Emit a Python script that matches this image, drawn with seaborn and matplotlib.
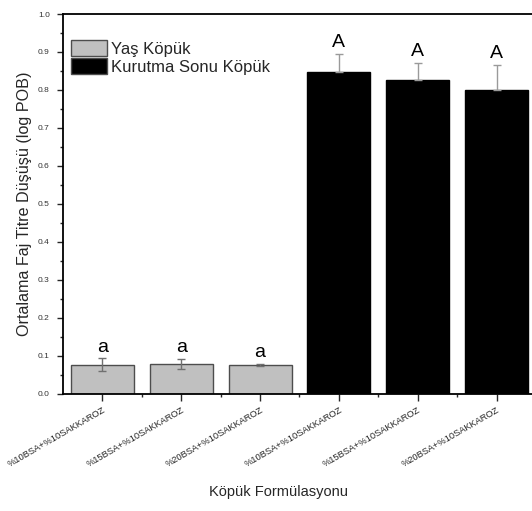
import matplotlib
matplotlib.use("Agg")
import matplotlib.pyplot as plt
from matplotlib.patches import Patch
from matplotlib.ticker import MultipleLocator, FixedLocator, FormatStrFormatter
import seaborn as sns
import pandas as pd

formulations = ["%10BSA+%10SAKKAROZ", "%15BSA+%10SAKKAROZ", "%20BSA+%10SAKKAROZ"]
groups = ["Yaş Köpük", "Kurutma Sonu Köpük"]
wet_means = [0.077, 0.080, 0.076]
wet_sd = [0.017, 0.013, 0.003]
dry_means = [0.848, 0.825, 0.799]
dry_sd = [0.047, 0.047, 0.067]
wet_letters = ["a", "a", "a"]
dry_letters = ["A", "A", "A"]

sns.set_style("ticks")
plt.rcParams["font.family"] = ["Liberation Sans", "DejaVu Sans"]

keys = [f"{g}|{f}" for g in groups for f in formulations]
df = pd.DataFrame({
    "key": keys,
    "group": [g for g in groups for _ in formulations],
    "value": wet_means + dry_means,
})
sds = wet_sd + dry_sd
letters = wet_letters + dry_letters

fig = plt.figure(figsize=(5.32, 5.11), dpi=100)
ax = fig.add_axes([0.1184, 0.229, 0.889, 0.7436])

palette = {groups[0]: "#c0c0c0", groups[1]: "#000000"}
sns.barplot(data=df, x="key", y="value", hue="group", order=keys,
            hue_order=groups, palette=palette, dodge=False, width=0.8,
            saturation=1, legend=False, ax=ax)

for i, p in enumerate(ax.patches[:6]):
    p.set_edgecolor("#4d4d4d" if i < 3 else "#000000")
    p.set_linewidth(1.0)

xs = list(range(6))
vals = wet_means + dry_means
for i, (x, v, s, lab) in enumerate(zip(xs, vals, sds, letters)):
    if i < 3:
        yerr = [[s], [s]]
        col = "#707070"
    else:
        yerr = [[0], [s]]
        col = "#9a9a9a"
    ax.errorbar(x, v, yerr=yerr, fmt="none", ecolor=col,
                elinewidth=1.0, capsize=3, capthick=1.0, zorder=5)
    ax.text(x, v + s + 0.007, lab, ha="center", va="bottom",
            fontsize=14, color="black")

ax.set_xlim(-0.5, 5.5)
ax.set_ylim(0, 1.0)
ax.yaxis.set_major_locator(MultipleLocator(0.1))
ax.yaxis.set_minor_locator(MultipleLocator(0.05))
ax.yaxis.set_major_formatter(FormatStrFormatter("%.1f"))
ax.xaxis.set_minor_locator(FixedLocator([0.5, 1.5, 2.5, 3.5, 4.5]))
ax.set_xticks(xs)
ax.set_xticklabels(formulations * 2, rotation=30, ha="right",
                   rotation_mode="anchor", fontsize=6.7)
ax.tick_params(axis="y", which="major", labelsize=6, length=4.5, width=1.0,
               direction="out", pad=5, labelcolor="#333333")
ax.tick_params(axis="y", which="minor", length=2.5, width=1.0, direction="out")
ax.tick_params(axis="x", which="major", length=5, width=1.0, direction="out")
ax.tick_params(axis="x", which="minor", length=2.5, width=1.0, direction="out")

for side in ["top", "right", "left", "bottom"]:
    ax.spines[side].set_visible(True)
    ax.spines[side].set_linewidth(1.3)
    ax.spines[side].set_color("black")

ax.set_xlabel("Köpük Formülasyonu", fontsize=10.5)
ax.xaxis.set_label_coords(0.455, -0.24)
ax.set_ylabel("Ortalama Faj Titre Düşüşü (log POB)", fontsize=11.6, labelpad=4)

handles = [Patch(facecolor="#c0c0c0", edgecolor="#4d4d4d", linewidth=1.0),
           Patch(facecolor="#000000", edgecolor="#4d4d4d", linewidth=1.0)]
ax.legend(handles, groups, loc="upper left", bbox_to_anchor=(0.016, 0.932),
          frameon=False, fontsize=12, handlelength=2.2, handleheight=1.1,
          handletextpad=0.2, labelspacing=0.08, borderaxespad=0, borderpad=0)

fig.savefig("out.png", dpi=100)
